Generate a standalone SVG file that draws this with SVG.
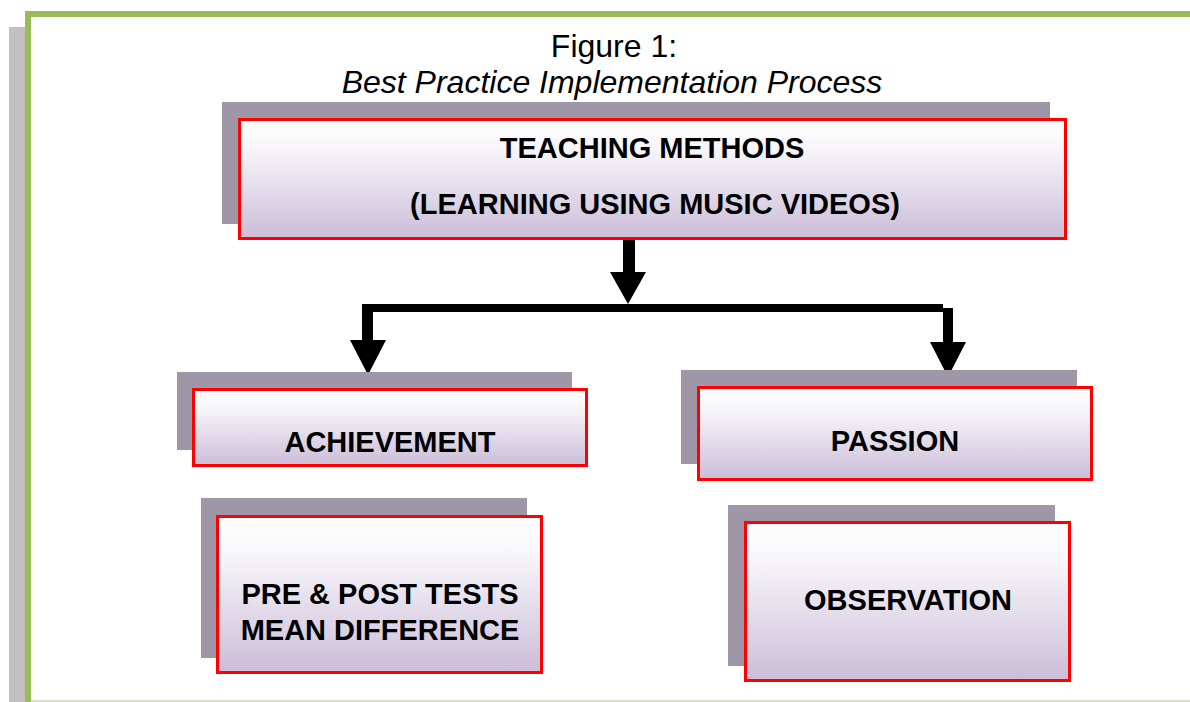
<svg xmlns="http://www.w3.org/2000/svg" width="1190" height="702" viewBox="0 0 1190 702">
  <defs>
    <linearGradient id="boxFill" x1="0" y1="0" x2="0" y2="1">
      <stop offset="0" stop-color="#ffffff"/>
      <stop offset="0.25" stop-color="#f7f5f9"/>
      <stop offset="1" stop-color="#cbbdd8"/>
    </linearGradient>
    <style>
      .shadow { fill: #9f97a8; }
      .box { fill: url(#boxFill); stroke: #ff0000; stroke-width: 3; }
      .label { font-family: "Liberation Sans", Arial, sans-serif; font-weight: bold; font-size: 29px; fill: #000000; text-anchor: middle; }
      .title { font-family: "Liberation Sans", Arial, sans-serif; font-size: 32px; fill: #000000; text-anchor: middle; }
      .arrow { fill: #000000; }
    </style>
  </defs>

  <!-- page frame -->
  <rect x="0" y="0" width="1190" height="702" fill="#ffffff"/>
  <rect x="9" y="27" width="16" height="675" fill="#c0c0c0"/>
  <rect x="25" y="11" width="1165" height="6" fill="#9bbb59"/>
  <rect x="25" y="11" width="6" height="691" fill="#9bbb59"/>
  <rect x="31" y="700" width="1159" height="2" fill="#d9ddc4"/>

  <!-- caption -->
  <g id="caption">
    <text class="title" x="614" y="57" font-size="33">Figure 1:</text>
    <text class="title" x="612" y="93" font-style="italic">Best Practice Implementation Process</text>
  </g>

  <!-- connectors -->
  <g id="connectors">
    <rect class="arrow" x="623" y="238" width="12" height="35"/>
    <polygon class="arrow" points="610,272 646,272 628,304"/>
    <rect class="arrow" x="362" y="304" width="581" height="8"/>
    <rect class="arrow" x="362" y="304" width="11" height="37"/>
    <polygon class="arrow" points="350,340 386,340 368,375"/>
    <rect class="arrow" x="943" y="308" width="10" height="35"/>
    <polygon class="arrow" points="930,342 966,342 948,377"/>
  </g>

  <g id="teaching-methods">
    <rect class="shadow" x="222" y="102" width="828" height="122"/>
    <rect class="box" x="239.5" y="119.5" width="826" height="119"/>
    <text class="label" x="652" y="158">TEACHING METHODS</text>
    <text class="label" x="655" y="214">(LEARNING USING MUSIC VIDEOS)</text>
  </g>

  <g id="achievement">
    <rect class="shadow" x="177" y="372" width="395" height="78"/>
    <rect class="box" x="193.5" y="389.5" width="393" height="76"/>
    <text class="label" x="390" y="452">ACHIEVEMENT</text>
  </g>

  <g id="passion">
    <rect class="shadow" x="681" y="370" width="396" height="94"/>
    <rect class="box" x="698.5" y="387.5" width="393" height="92"/>
    <text class="label" x="895" y="451">PASSION</text>
  </g>

  <g id="pre-post-tests">
    <rect class="shadow" x="201" y="498" width="326" height="160"/>
    <rect class="box" x="217.5" y="516.5" width="324" height="156"/>
    <text class="label" x="380" y="604">PRE &amp; POST TESTS</text>
    <text class="label" x="380" y="640">MEAN DIFFERENCE</text>
  </g>

  <g id="observation">
    <rect class="shadow" x="728" y="505" width="327" height="161"/>
    <rect class="box" x="745.5" y="522.5" width="324" height="158"/>
    <text class="label" x="908" y="610">OBSERVATION</text>
  </g>
</svg>
